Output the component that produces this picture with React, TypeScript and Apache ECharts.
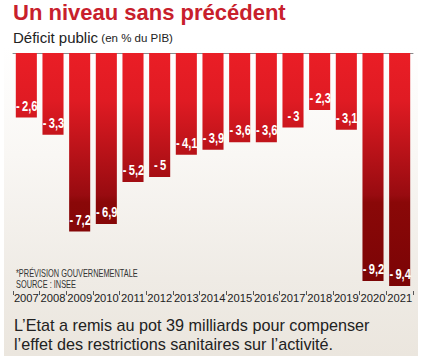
import React, { useEffect, useRef } from "react";
import * as echarts from "echarts";

const years = ["2007", "2008", "2009", "2010", "2011", "2012", "2013", "2014", "2015", "2016", "2017", "2018", "2019", "2020", "2021"];
const deficit = [-2.6, -3.3, -7.2, -6.9, -5.2, -5, -4.1, -3.9, -3.6, -3.6, -3, -2.3, -3.1, -9.2, -9.4];

const title = "Un niveau sans précédent";
const subtitleMain = "Déficit public";
const subtitleUnit = "(en % du PIB)";
const footnotes = ["*PRÉVISION GOUVERNEMENTALE", "SOURCE : INSEE"];
const caption = [
  "L\u2019Etat a remis au pot 39 milliards pour compenser",
  "l\u2019effet des restrictions sanitaires sur l\u2019activité.",
];

const SANS = "'Liberation Sans', Arial, sans-serif";

const fmt = (v: number) => "-\u2009" + String(Math.abs(v)).replace(".", ",");

export default function App() {
  const ref = useRef<HTMLDivElement>(null);
  useEffect(() => {
    if (!ref.current) return;
    const chart = echarts.init(ref.current, null, { renderer: "svg" });
    const barGrad = new echarts.graphic.LinearGradient(
      0, 53, 0, 290,
      [
        { offset: 0, color: "#ea1e26" },
        { offset: 0.2, color: "#e01b23" },
        { offset: 0.6, color: "#980b10" },
        { offset: 0.63, color: "#8a0808" },
        { offset: 1, color: "#7a0405" },
      ],
      true
    );
    chart.setOption({
      animation: false,
      backgroundColor: "#ffffff",
      graphic: [
        {
          type: "rect",
          z: -10,
          silent: true,
          shape: { x: 4, y: 47, width: 414, height: 309 },
          style: {
            fill: new echarts.graphic.LinearGradient(0, 0, 0, 1, [
              { offset: 0, color: "#ffffff" },
              { offset: 0.35, color: "#f9f7f4" },
              { offset: 0.75, color: "#efebe5" },
              { offset: 1, color: "#ebe6de" },
            ]),
          },
        },
        {
          type: "text",
          x: 13,
          y: 1,
          style: {
            text: title,
            font: "bold 22px " + SANS,
            fill: "#c8202c",
          },
        },
        {
          type: "text",
          x: 13,
          y: 30,
          style: {
            text: "{a|" + subtitleMain + "} {b|" + subtitleUnit + "}",
            rich: {
              a: { fontSize: 15, fontFamily: SANS, fill: "#222", color: "#222" },
              b: { fontSize: 11.5, fontFamily: SANS, fill: "#222", color: "#222" },
            },
          },
        },
        {
          type: "text",
          x: 16,
          y: 268,
          scaleX: 0.74,
          style: {
            text: footnotes.join("\n"),
            font: "10px " + SANS,
            lineHeight: 11,
            fill: "#333",
          },
        },
        {
          type: "text",
          x: 14,
          y: 315,
          style: {
            text: caption.join("\n"),
            font: "16.2px " + SANS,
            lineHeight: 19,
            fill: "#222",
          },
        },
      ],
      grid: { left: 13, right: 12, top: 53, height: 238 },
      xAxis: [
        {
          type: "category",
          data: years,
          position: "top",
          axisLine: { show: true, lineStyle: { color: "#8a8a8a", width: 1 } },
          axisTick: { show: false },
          axisLabel: { show: false },
        },
        {
          type: "category",
          data: years,
          position: "bottom",
          axisLine: { show: false },
          axisTick: { show: true, length: 4, lineStyle: { color: "#555" } },
          axisLabel: { show: true, interval: 0, hideOverlap: false, margin: 1, color: "#222", fontSize: 11.2, fontFamily: SANS },
        },
      ],
      yAxis: {
        type: "value",
        min: -9.6,
        max: 0,
        show: false,
        splitLine: { show: false },
      },
      series: [
        {
          type: "bar",
          xAxisIndex: 0,
          data: deficit,
          barCategoryGap: "21%",
          itemStyle: { color: barGrad },
          label: { show: false },
        },
        {
          type: "custom",
          xAxisIndex: 0,
          data: deficit.map((v, i) => [i, v]),
          z: 5,
          renderItem: (_params: any, api: any) => {
            const idx = api.value(0);
            const v = api.value(1);
            const pt = api.coord([idx, v]);
            return {
              type: "text",
              x: pt[0] + 0.5,
              y: pt[1] - 4,
              scaleX: 0.72,
              style: {
                text: fmt(v),
                fill: "#ffffff",
                font: "bold 15.5px " + SANS,
                align: "center",
                verticalAlign: "bottom",
              },
            };
          },
        },
      ],
    });
    return () => chart.dispose();
  }, []);
  return <div ref={ref} style={{ position: "fixed", left: 0, top: 0, width: 425, height: 362 }} />;
}
